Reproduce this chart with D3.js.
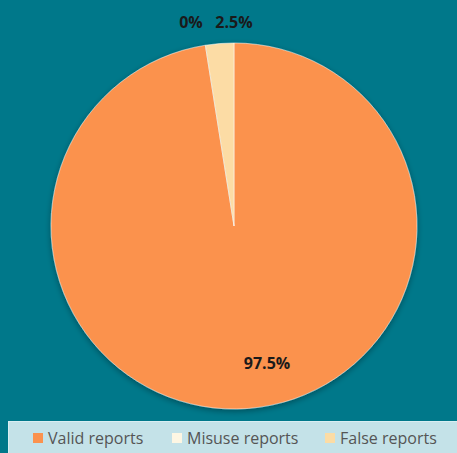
<!DOCTYPE html>
<html>
<head>
<meta charset="utf-8">
<script src="https://cdn.jsdelivr.net/npm/d3@7"></script>
<style>
  body { margin: 0; background: #00788a; }
  svg { display: block; }
</style>
</head>
<body>
<div id="chart"></div>
<script>
var categories = ["Valid reports", "Misuse reports", "False reports"];
var values = [97.5, 0, 2.5];
var labels = ["97.5%", "0%", "2.5%"];
var colors = ["#fb924e", "#fdf6e3", "#fcdca5"];

var w = 457, h = 453;
var cx = 234, cy = 226, r = 183;

var svg = d3.select("#chart")
      .append("svg")
      .attr("width", w)
      .attr("height", h);

svg.append("rect")
   .attr("width", w)
   .attr("height", h)
   .attr("fill", "#00788a");

var defs = svg.append("defs");
var f = defs.append("filter").attr("id", "shadow")
      .attr("x", "-10%").attr("y", "-10%").attr("width", "120%").attr("height", "120%");
f.append("feGaussianBlur").attr("in", "SourceAlpha").attr("stdDeviation", 3);
f.append("feOffset").attr("dx", 0).attr("dy", 2).attr("result", "b");
f.append("feComponentTransfer").append("feFuncA").attr("type", "linear").attr("slope", 0.35);
var m = f.append("feMerge");
m.append("feMergeNode");
m.append("feMergeNode").attr("in", "SourceGraphic");

var pie = d3.pie().sort(null).value(function(d) { return d; });
var arcs = pie(values);
var arc = d3.arc().innerRadius(0).outerRadius(r);

var g = svg.append("g")
      .attr("transform", "translate(" + cx + "," + cy + ")")
      .attr("filter", "url(#shadow)");

g.selectAll("path")
   .data(arcs)
   .enter()
   .append("path")
   .attr("d", arc)
   .attr("fill", function(d, i) { return colors[i]; })
   .attr("stroke", function(d, i) { return d.value > 0 ? "#ffffff" : "none"; })
   .attr("stroke-width", 0.5);

// data labels
var labelPos = [
  [267, 369],
  [191, 28],
  [234, 28]
];
svg.selectAll("text.lbl")
   .data(labels)
   .enter()
   .append("text")
   .attr("class", "lbl")
   .text(function(d) { return d; })
   .attr("x", function(d, i) { return labelPos[i][0]; })
   .attr("y", function(d, i) { return labelPos[i][1]; })
   .attr("text-anchor", "middle")
   .attr("font-family", "Open Sans, sans-serif")
   .attr("font-weight", "bold")
   .attr("font-size", "16px")
   .attr("fill", "#1a1a1a");

// legend
svg.append("rect")
   .attr("x", 8.5)
   .attr("y", 421.5)
   .attr("width", 460)
   .attr("height", 40)
   .attr("fill", "#c4e2e8")
   .attr("stroke", "#d9eef2");

var legX = [33, 172, 325];
var leg = svg.selectAll("g.leg")
   .data(categories)
   .enter()
   .append("g")
   .attr("class", "leg")
   .attr("transform", function(d, i) { return "translate(" + legX[i] + ",433)"; });

leg.append("rect")
   .attr("width", 10)
   .attr("height", 10)
   .attr("fill", function(d, i) { return colors[i]; });

leg.append("text")
   .text(function(d) { return d; })
   .attr("x", 15)
   .attr("y", 11)
   .attr("font-family", "Open Sans, sans-serif")
   .attr("font-size", "16px")
   .attr("fill", "#555555");
</script>
</body>
</html>
